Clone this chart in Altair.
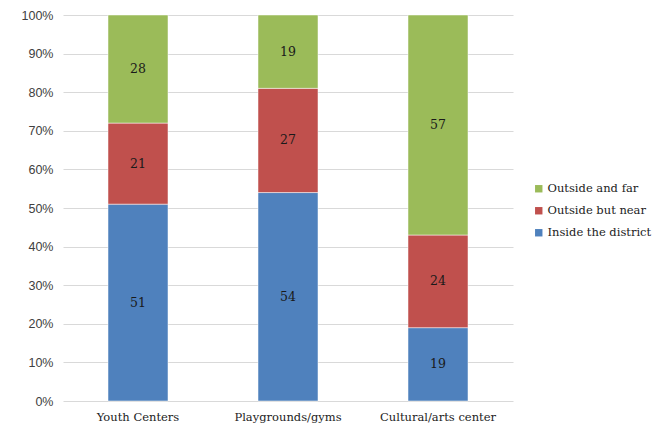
import altair as alt
import pandas as pd

# Share of respondents by where each facility type is located
categories = ["Youth Centers", "Playgrounds/gyms", "Cultural/arts center"]
inside_district = [51, 54, 19]
outside_near = [21, 27, 24]
outside_far = [28, 19, 57]

series = ["Inside the district", "Outside but near", "Outside and far"]
colors = ["#4F81BD", "#C0504D", "#9BBB59"]
tick_values = [0, 0.1, 0.2, 0.3, 0.4, 0.5, 0.6, 0.7, 0.8, 0.9, 1.0]

rows = []
for i, cat in enumerate(categories):
    for k, (name, vals) in enumerate(zip(series, [inside_district, outside_near, outside_far])):
        rows.append({"cat": cat, "series": name, "value": vals[i], "ord": k})
df = pd.DataFrame(rows)

serif = "DejaVu Serif"
sans = "Liberation Sans"

base = alt.Chart(df).transform_stack(
    stack="value",
    groupby=["cat"],
    sort=[alt.SortField("ord", order="ascending")],
    as_=["y0", "y1"],
    offset="normalize",
).transform_calculate(mid="(datum.y0 + datum.y1) / 2")

x_enc = alt.X(
    "cat:N",
    sort=categories,
    title=None,
    scale=alt.Scale(paddingInner=0.6, paddingOuter=0.3),
    axis=alt.Axis(
        labelAngle=0,
        labelFont=serif,
        labelFontSize=11.5,
        labelColor="#222222",
        labelPadding=10,
        domain=False,
        ticks=False,
        grid=False,
    ),
)

y_scale = alt.Scale(domain=[0, 1], nice=False)
y_axis = alt.Axis(
    format=".0%",
    values=tick_values,
    labelFont=sans,
    labelFontSize=12.5,
    labelColor="#404040",
    labelPadding=10,
    labelOverlap=False,
    domain=False,
    ticks=False,
    gridColor="#D9D9D9",
    gridWidth=1,
)

bars = base.mark_bar(stroke="white", strokeWidth=0.5).encode(
    x=x_enc,
    y=alt.Y("y0:Q", title=None, scale=y_scale, axis=y_axis),
    y2="y1:Q",
    color=alt.Color(
        "series:N",
        scale=alt.Scale(domain=series[::-1], range=colors[::-1]),
        legend=alt.Legend(
            title=None,
            orient="none",
            legendX=470,
            legendY=168,
            symbolType="square",
            symbolSize=55,
            symbolStrokeWidth=0,
            labelFont=serif,
            labelFontSize=11.5,
            labelColor="#222222",
            rowPadding=9,
            labelOffset=3,
        ),
    ),
)

labels = base.mark_text(font=serif, fontSize=12.5, color="#1a1a1a", baseline="middle").encode(
    x=x_enc,
    y=alt.Y("mid:Q", title=None, scale=y_scale, axis=y_axis),
    text=alt.Text("value:Q"),
)

chart = (
    alt.layer(bars, labels)
    .properties(
        width=450,
        height=386,
        background="white",
        autosize=alt.AutoSizeParams(type="none"),
        padding={"left": 63, "top": 15, "right": 152, "bottom": 27},
    )
    .configure_view(strokeOpacity=0, strokeWidth=0)
)

chart.save("out.html", embed_options={"renderer": "svg", "actions": False})
